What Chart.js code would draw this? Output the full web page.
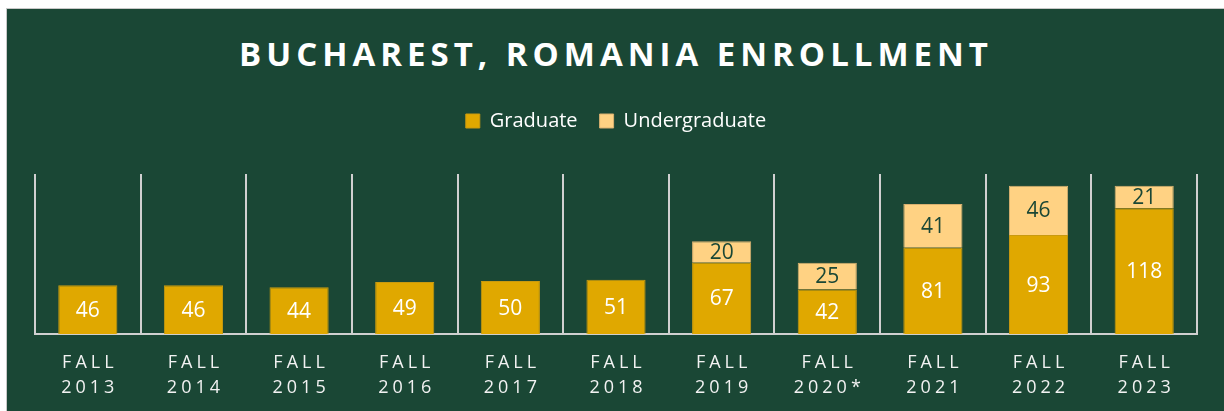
<!DOCTYPE html>
<html>
<head>
<meta charset="utf-8">
<script src="https://cdn.jsdelivr.net/npm/chart.js@4.4.1/dist/chart.umd.min.js"></script>
<style>
  html, body { margin: 0; padding: 0; background: #ffffff; width: 1224px; height: 411px; overflow: hidden; }
  #panel {
    position: absolute; left: 6px; top: 8px; width: 1218px; height: 403px; overflow: hidden;
    background: #1a4735; border-left: 1px solid #c8c8c8; border-top: 1px solid #c8c8c8;
  }
  #title {
    position: absolute; left: 0; right: 0; top: 22px; margin: 0;
    text-align: center; color: #ffffff; font-family: 'Open Sans', sans-serif;
    font-weight: 700; font-size: 33px; letter-spacing: 5px;
  }
  #wrap { position: absolute; left: 0; top: 0; width: 1217px; height: 407px; }
</style>
</head>
<body>
<div id="panel">
  <h1 id="title">BUCHAREST, ROMANIA ENROLLMENT</h1>
  <div id="wrap"><canvas id="enrollChart"></canvas></div>
</div>
<script>
// --- dados do gráfico ---
const terms = ['2013', '2014', '2015', '2016', '2017', '2018', '2019', '2020*', '2021', '2022', '2023'];
const graduate = [46, 46, 44, 49, 50, 51, 67, 42, 81, 93, 118];
const undergraduate = [null, null, null, null, null, null, 20, 25, 41, 46, 21];

const green = '#1a4735';
const gold = '#e0a800';
const lightGold = '#ffd283';

// eixo de categorias com espaçamento entre letras nos rótulos
class SpacedCategoryScale extends Chart.CategoryScale {
    drawLabels(area) {
        const ctx = this.ctx;
        ctx.save();
        ctx.letterSpacing = '4px';
        ctx.translate(2, 0);
        super.drawLabels(area);
        ctx.restore();
    }
}
SpacedCategoryScale.id = 'spacedCategory';
SpacedCategoryScale.defaults = Chart.CategoryScale.defaults;
Chart.register(SpacedCategoryScale);

// espaço extra abaixo da legenda
const legendGap = {
    id: 'legendGap',
    beforeInit(chart) {
        const fit = chart.legend.fit;
        chart.legend.fit = function () {
            fit.call(this);
            this.height += 33;
        };
    }
};

// valores dentro das barras
const valueLabels = {
    id: 'valueLabels',
    afterDatasetsDraw(chart) {
        const ctx = chart.ctx;
        ctx.save();
        ctx.font = '21px "Open Sans", sans-serif';
        ctx.textAlign = 'center';
        ctx.textBaseline = 'middle';
        chart.data.datasets.forEach((ds, i) => {
            const meta = chart.getDatasetMeta(i);
            meta.data.forEach((bar, j) => {
                const v = ds.data[j];
                if (v == null) return;
                ctx.fillStyle = i === 0 ? '#ffffff' : green;
                ctx.fillText(String(v), bar.x, (bar.y + bar.base) / 2 + 1);
            });
        });
        ctx.restore();
    }
};

document.addEventListener('DOMContentLoaded', () => {
    const canvas = document.getElementById('enrollChart');

    new Chart(canvas, {
        type: 'bar',
        data: {
            labels: terms.map(t => ['FALL', t]),
            datasets: [
                {
                    label: 'Graduate',
                    data: graduate,
                    backgroundColor: gold,
                    borderColor: '#c99a10',
                    borderWidth: 1,
                    barPercentage: 1,
                    categoryPercentage: 0.56
                },
                {
                    label: 'Undergraduate',
                    data: undergraduate,
                    backgroundColor: lightGold,
                    borderColor: '#d9b070',
                    borderWidth: 1,
                    barPercentage: 1,
                    categoryPercentage: 0.56
                }
            ]
        },
        options: {
            responsive: true,
            maintainAspectRatio: false,
            animation: false,
            layout: { padding: { top: 80, left: 28, right: 27, bottom: 0 } },
            plugins: {
                legend: {
                    position: 'top',
                    labels: {
                        color: '#ffffff',
                        boxWidth: 14,
                        boxHeight: 14,
                        padding: 22,
                        font: { family: 'Open Sans', size: 20 }
                    }
                },
                tooltip: { enabled: false }
            },
            scales: {
                x: {
                    type: 'spacedCategory',
                    stacked: true,
                    grid: {
                        offset: true,
                        color: '#d0d0d0',
                        lineWidth: 2,
                        drawTicks: false
                    },
                    border: { display: true, color: '#d0d0d0', width: 2 },
                    ticks: {
                        color: '#f2f2f2',
                        padding: 16,
                        font: { family: 'Open Sans', size: 18, lineHeight: 1.38 }
                    }
                },
                y: {
                    stacked: true,
                    display: false,
                    min: 0,
                    max: 150
                }
            }
        },
        plugins: [legendGap, valueLabels]
    });
});
</script>
</body>
</html>
